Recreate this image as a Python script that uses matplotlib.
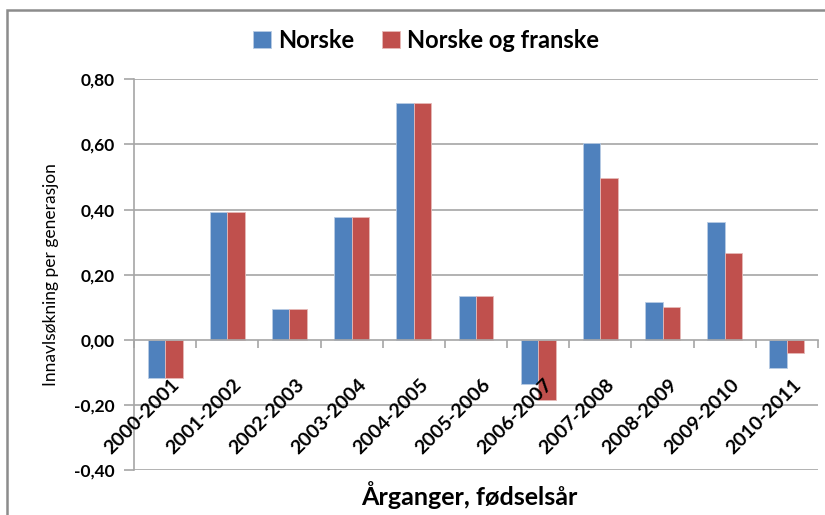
import numpy as np
import matplotlib
matplotlib.use("Agg")
import matplotlib.pyplot as plt
from matplotlib.patches import Rectangle

plt.rcParams['font.family'] = ['Lato', 'DejaVu Sans']

# data
perioder = ['2000-2001', '2001-2002', '2002-2003', '2003-2004', '2004-2005',
            '2005-2006', '2006-2007', '2007-2008', '2008-2009', '2009-2010',
            '2010-2011']
norske = [-0.117, 0.393, 0.095, 0.377, 0.727, 0.135, -0.136, 0.603, 0.117, 0.361, -0.087]
norske_franske = [-0.117, 0.393, 0.095, 0.377, 0.727, 0.135, -0.186, 0.497, 0.102, 0.268, -0.040]
y_ticks = [-0.4, -0.2, 0.0, 0.2, 0.4, 0.6, 0.8]
y_labels = ['-0,40', '-0,20', '0,00', '0,20', '0,40', '0,60', '0,80']

blue = '#4F81BD'
red = '#C0504D'
grid_col = '#A6A6A6'

fig = plt.figure(figsize=(8.25, 5.15), dpi=100)
ax = fig.add_axes([134/825, 1-470/515, 684/825, 390.7/515])

x = np.arange(len(perioder))
w = 0.28
ax.bar(x - w/2, norske, w, color=blue, edgecolor='#B8CCE4', linewidth=0.6,
       label='Norske', zorder=3)
ax.bar(x + w/2, norske_franske, w, color=red, edgecolor='#E6B9B8', linewidth=0.6,
       label='Norske og franske', zorder=3)

ax.set_xlim(-0.5, len(perioder) - 0.5)
ax.set_ylim(-0.4, 0.8)
ax.set_yticks(y_ticks)
ax.set_yticklabels(y_labels, fontsize=12.5, fontweight='bold')
for yv in y_ticks:
    if yv != 0.0:
        ax.axhline(yv, color=grid_col, linewidth=1.2, zorder=1)

for s in ['top', 'right']:
    ax.spines[s].set_visible(False)
ax.spines['left'].set_color(grid_col)
ax.spines['left'].set_linewidth(1.2)
ax.spines['bottom'].set_position(('data', 0))
ax.spines['bottom'].set_color(grid_col)
ax.spines['bottom'].set_linewidth(1.2)
ax.spines['bottom'].set_zorder(4)

# category boundary ticks on the zero line
ax.set_xticks(np.arange(-0.5, len(perioder), 1.0))
ax.set_xticklabels([])
ax.tick_params(axis='x', direction='out', length=6, color=grid_col, width=1.2)
ax.tick_params(axis='y', direction='out', length=7, color=grid_col, width=1.2,
               pad=7)

for xi, lab in zip(x, perioder):
    ax.annotate(lab, xy=(xi, 0), xycoords='data', xytext=(4, -26),
                textcoords='offset points', rotation=45, ha='right', va='top',
                rotation_mode='anchor', fontsize=14, fontweight='bold')

ax.set_ylabel('Innavlsøkning per generasjon', fontsize=12.5)
ax.yaxis.set_label_coords(-0.11, 0.5)
ax.set_xlabel('Årganger, fødselsår', fontsize=18, fontweight='bold')
ax.xaxis.set_label_coords(0.49, -0.028)

ax.legend(loc='center', bbox_to_anchor=(426/825, 1-40/515),
          bbox_transform=fig.transFigure, ncol=2, frameon=False,
          prop={'size': 17, 'weight': 'bold'}, handlelength=0.75,
          handleheight=0.75, handletextpad=0.3, columnspacing=1.2)

# outer chart border
fig.patches.append(Rectangle((7/825, -0.1), 1.1, 1 - 10/515 + 0.1,
                             transform=fig.transFigure, fill=False,
                             edgecolor='#8C8C8C', linewidth=1.8))

fig.savefig('out.png', dpi=100)
